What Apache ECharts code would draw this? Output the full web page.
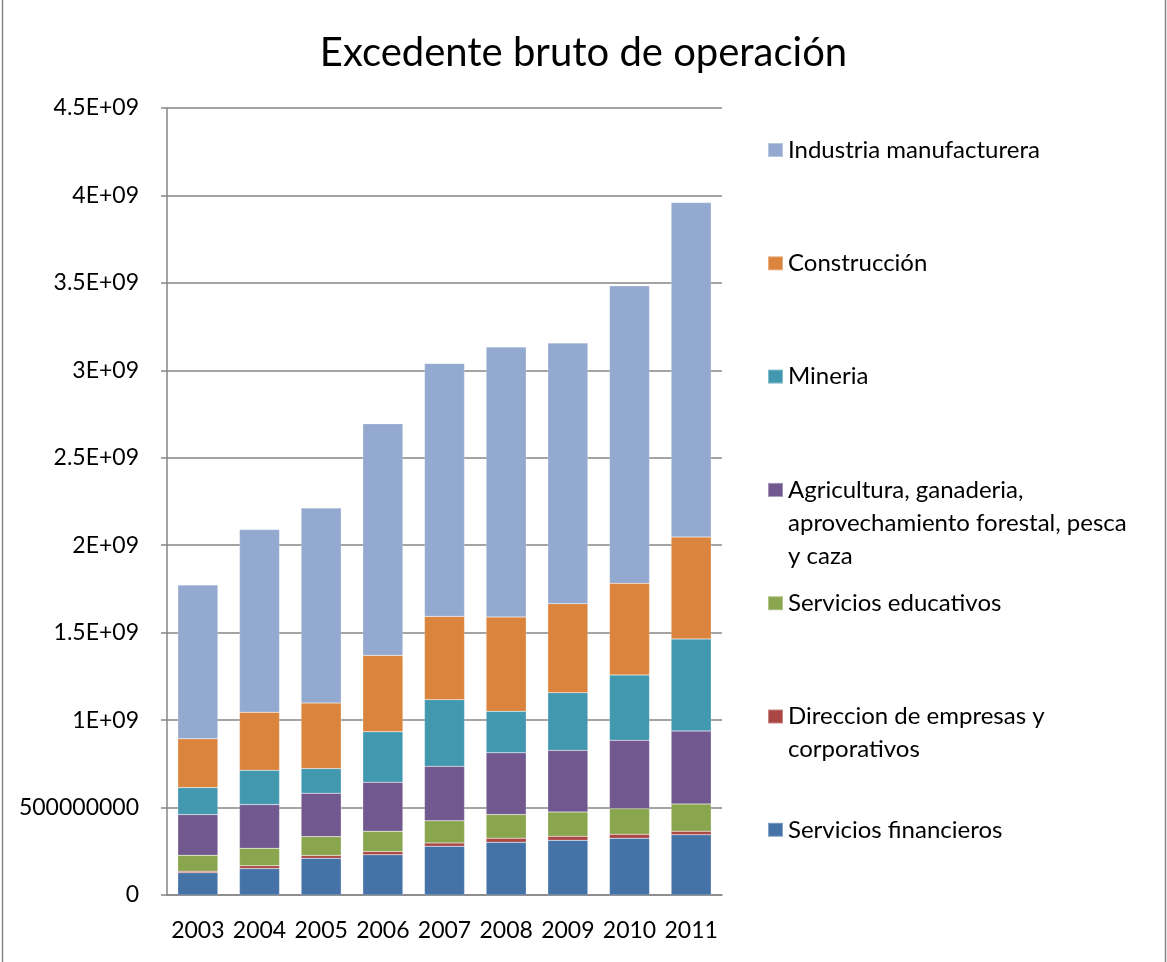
<!DOCTYPE html>
<html>
<head>
<meta charset="utf-8">
<title>Excedente bruto de operación</title>
<script src="https://cdn.jsdelivr.net/npm/echarts@6/dist/echarts.min.js"></script>
<style>
  html, body { margin: 0; padding: 0; background: #fff; }
  #main { width: 1167px; height: 962px; }
</style>
</head>
<body>
<div id="main"></div>
<script>
  // datos
  var years = ['2003', '2004', '2005', '2006', '2007', '2008', '2009', '2010', '2011'];
  var yLabels = ['0', '500000000', '1E+09', '1.5E+09', '2E+09', '2.5E+09', '3E+09', '3.5E+09', '4E+09', '4.5E+09'];

  var financieros  = [1.27e8, 1.51e8, 2.10e8, 2.30e8, 2.79e8, 3.02e8, 3.13e8, 3.25e8, 3.44e8];
  var direccion    = [0.09e8, 0.16e8, 0.16e8, 0.19e8, 0.19e8, 0.23e8, 0.23e8, 0.22e8, 0.21e8];
  var educativos   = [0.91e8, 1.00e8, 1.08e8, 1.16e8, 1.26e8, 1.35e8, 1.39e8, 1.47e8, 1.56e8];
  var agricultura  = [2.33e8, 2.50e8, 2.48e8, 2.80e8, 3.12e8, 3.53e8, 3.52e8, 3.91e8, 4.17e8];
  var mineria      = [1.54e8, 1.96e8, 1.41e8, 2.88e8, 3.81e8, 2.37e8, 3.30e8, 3.73e8, 5.26e8];
  var construccion = [2.79e8, 3.32e8, 3.75e8, 4.37e8, 4.76e8, 5.40e8, 5.09e8, 5.24e8, 5.83e8];
  var industria    = [8.80e8, 10.45e8, 11.15e8, 13.24e8, 14.46e8, 15.43e8, 14.91e8, 17.01e8, 19.12e8];

  var names = [
    'Servicios financieros',
    'Direccion de empresas y corporativos',
    'Servicios educativos',
    'Agricultura, ganaderia, aprovechamiento forestal, pesca y caza',
    'Mineria',
    'Construcción',
    'Industria manufacturera'
  ];
  var legendText = [
    'Servicios financieros',
    'Direccion de empresas y\ncorporativos',
    'Servicios educativos',
    'Agricultura, ganaderia,\naprovechamiento forestal, pesca\ny caza',
    'Mineria',
    'Construcción',
    'Industria manufacturera'
  ];
  var colors = ['#4572A7', '#AA4643', '#89A54E', '#71588F', '#4198AF', '#DB843D', '#93A9CF'];
  var values = [financieros, direccion, educativos, agricultura, mineria, construccion, industria];

  var font = 'Lato';
  var lineH = 33;

  var myChart = echarts.init(document.getElementById('main'));

  var series = [];
  var legends = [];
  for (var i = 0; i < names.length; i++) {
    series.push({
      name: names[i],
      type: 'bar',
      stack: 'total',
      barCategoryGap: '35%',
      itemStyle: { color: colors[i], borderColor: 'rgba(255,255,255,0.35)', borderWidth: 0.5 },
      data: values[i]
    });
    // una leyenda por elemento; lineas vacias delante para que el icono
    // quede a la altura de la primera linea
    var nLines = legendText[i].split('\n').length;
    var label = new Array(nLines).join('\n') + legendText[i];
    var pos = 6 - i; // industria arriba
    var iconY = 150 + pos * 113.3;
    legends.push({
      orient: 'vertical',
      left: 767,
      top: iconY - (2 * nLines - 1) * lineH / 2,
      padding: 0,
      itemWidth: 15,
      itemHeight: 14,
      icon: 'rect',
      selectedMode: false,
      data: [names[i]],
      formatter: (function (t) { return function () { return t; }; })(label),
      textStyle: {
        fontFamily: font,
        fontSize: 24,
        lineHeight: lineH,
        color: '#000'
      }
    });
  }

  myChart.setOption({
    animation: false,
    title: {
      text: 'Excedente bruto de operación',
      left: 'center',
      top: 33,
      padding: 0,
      textStyle: { fontFamily: font, fontSize: 40, fontWeight: 'normal', color: '#000' }
    },
    legend: legends,
    grid: { left: 167, right: 445, top: 108, bottom: 67 },
    xAxis: {
      type: 'category',
      data: years,
      axisLine: { lineStyle: { color: '#868686', width: 1.5 } },
      axisTick: { show: false },
      axisLabel: { fontFamily: font, fontSize: 23, color: '#000', margin: 24, interval: 0 }
    },
    yAxis: {
      type: 'value',
      min: 0,
      max: 4.5e9,
      interval: 5e8,
      axisLine: { show: true, lineStyle: { color: '#868686', width: 1.5 } },
      axisTick: { show: true, length: 6, lineStyle: { color: '#868686', width: 1.5 } },
      splitLine: { lineStyle: { color: '#868686', width: 1.5 } },
      axisLabel: {
        fontFamily: font, fontSize: 23, color: '#000', margin: 28,
        formatter: function (v) { return yLabels[Math.round(v / 5e8)]; }
      }
    },
    graphic: [{
      type: 'rect',
      shape: { x: 2.5, y: -10, width: 1163, height: 990 },
      style: { fill: 'none', stroke: '#868686', lineWidth: 1.5 },
      silent: true
    }],
    series: series
  });
</script>
</body>
</html>
